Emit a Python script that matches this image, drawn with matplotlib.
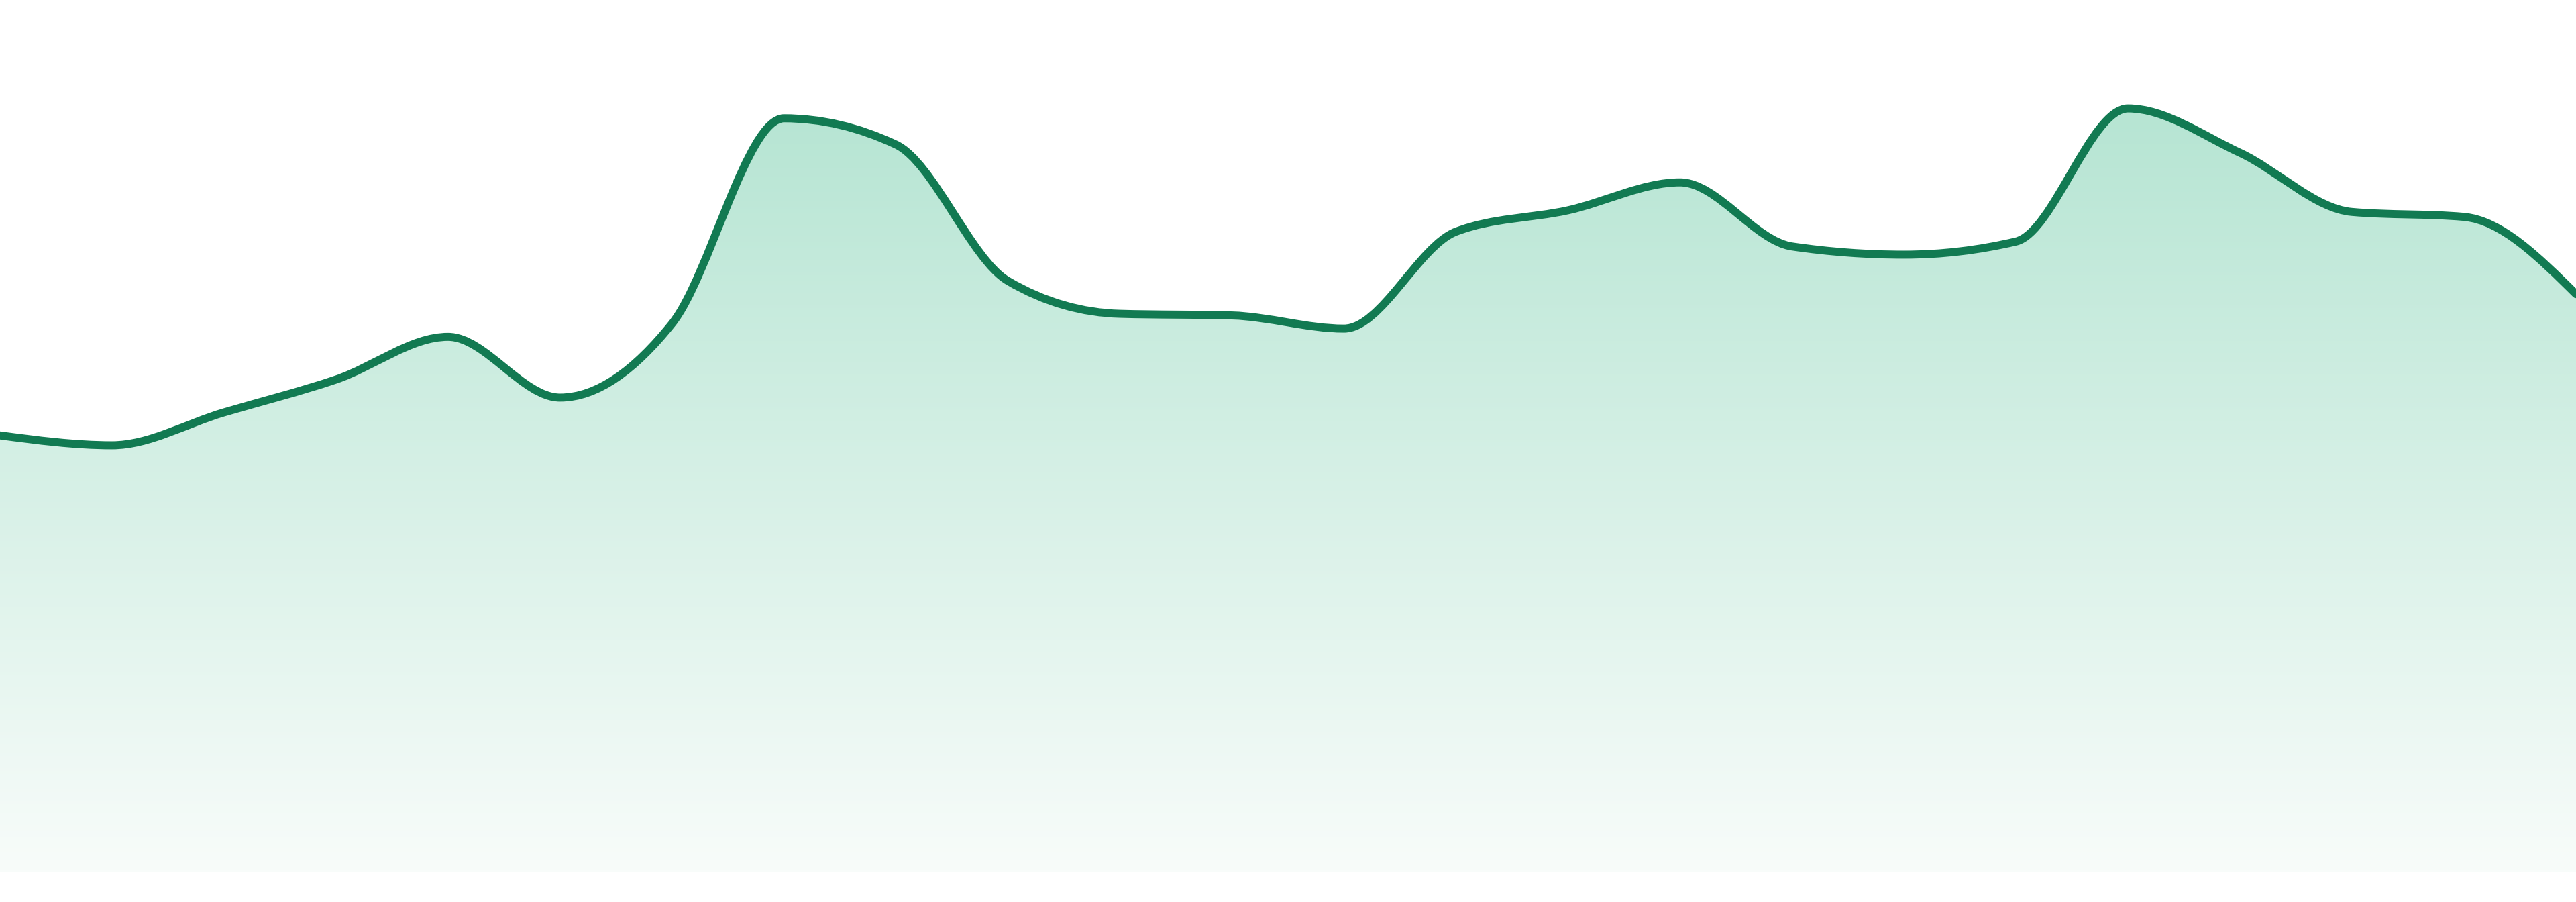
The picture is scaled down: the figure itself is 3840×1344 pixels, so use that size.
import numpy as np
import matplotlib
matplotlib.use("Agg")
import matplotlib.pyplot as plt
from matplotlib.path import Path
from matplotlib.patches import PathPatch
from matplotlib.colors import LinearSegmentedColormap

# values (arbitrary units, 0 = baseline of the area)
values = [266, 260, 280, 300, 326, 289, 334, 459, 443, 360, 340, 339,
          331, 390, 403, 420, 381, 376, 384, 465, 438, 402, 399, 352]
x_index = list(range(len(values)))

LINE_COLOR = "#127a52"
FILL_TOP = "#b6e5d3"
FILL_BOTTOM = "#f8fcfa"


def monotone_slopes(x, y):
    """Tangents for a monotone cubic (same rule as d3.curveMonotoneX)."""
    x = np.asarray(x, dtype=float)
    y = np.asarray(y, dtype=float)
    h = np.diff(x)
    s = np.diff(y) / h
    m = np.zeros(len(y))
    for i in range(1, len(y) - 1):
        s0, s1 = s[i - 1], s[i]
        p = (s0 * h[i] + s1 * h[i - 1]) / (h[i - 1] + h[i])
        sg = (1 if s0 >= 0 else -1) + (1 if s1 >= 0 else -1)
        m[i] = sg * min(abs(s0), abs(s1), 0.5 * abs(p))
    m[0] = (3 * s[0] - m[1]) / 2
    m[-1] = (3 * s[-1] - m[-2]) / 2
    return m


def smooth_path_vertices(x, y):
    m = monotone_slopes(x, y)
    verts = [(x[0], y[0])]
    codes = [Path.MOVETO]
    for i in range(len(x) - 1):
        dx = (x[i + 1] - x[i]) / 3.0
        verts += [(x[i] + dx, y[i] + m[i] * dx),
                  (x[i + 1] - dx, y[i + 1] - m[i + 1] * dx),
                  (x[i + 1], y[i + 1])]
        codes += [Path.CURVE4] * 3
    return verts, codes


fig = plt.figure(figsize=(19.2, 6.72), dpi=200)
ax = fig.add_axes([0, 0, 1, 1])
ax.set_xlim(0, len(values) - 1)
ax.set_ylim(-18, 531)
ax.axis("off")

verts, codes = smooth_path_vertices(x_index, values)

# area under the curve, filled with a vertical gradient
area_verts = verts + [(x_index[-1], 0), (x_index[0], 0), (x_index[0], values[0])]
area_codes = codes + [Path.LINETO, Path.LINETO, Path.CLOSEPOLY]
area = PathPatch(Path(area_verts, area_codes), facecolor="none", edgecolor="none")
ax.add_patch(area)

cmap = LinearSegmentedColormap.from_list("mint", [FILL_BOTTOM, FILL_TOP])
grad = np.linspace(0, 1, 256).reshape(-1, 1)
img = ax.imshow(grad, cmap=cmap, aspect="auto", origin="lower",
                extent=[x_index[0], x_index[-1], 0, max(values)], zorder=1)
img.set_clip_path(area)

line = PathPatch(Path(verts, codes), facecolor="none", edgecolor=LINE_COLOR,
                 linewidth=4.3, capstyle="round", joinstyle="round", zorder=3)
ax.add_patch(line)

fig.savefig("out.png", dpi=200, facecolor="white")
